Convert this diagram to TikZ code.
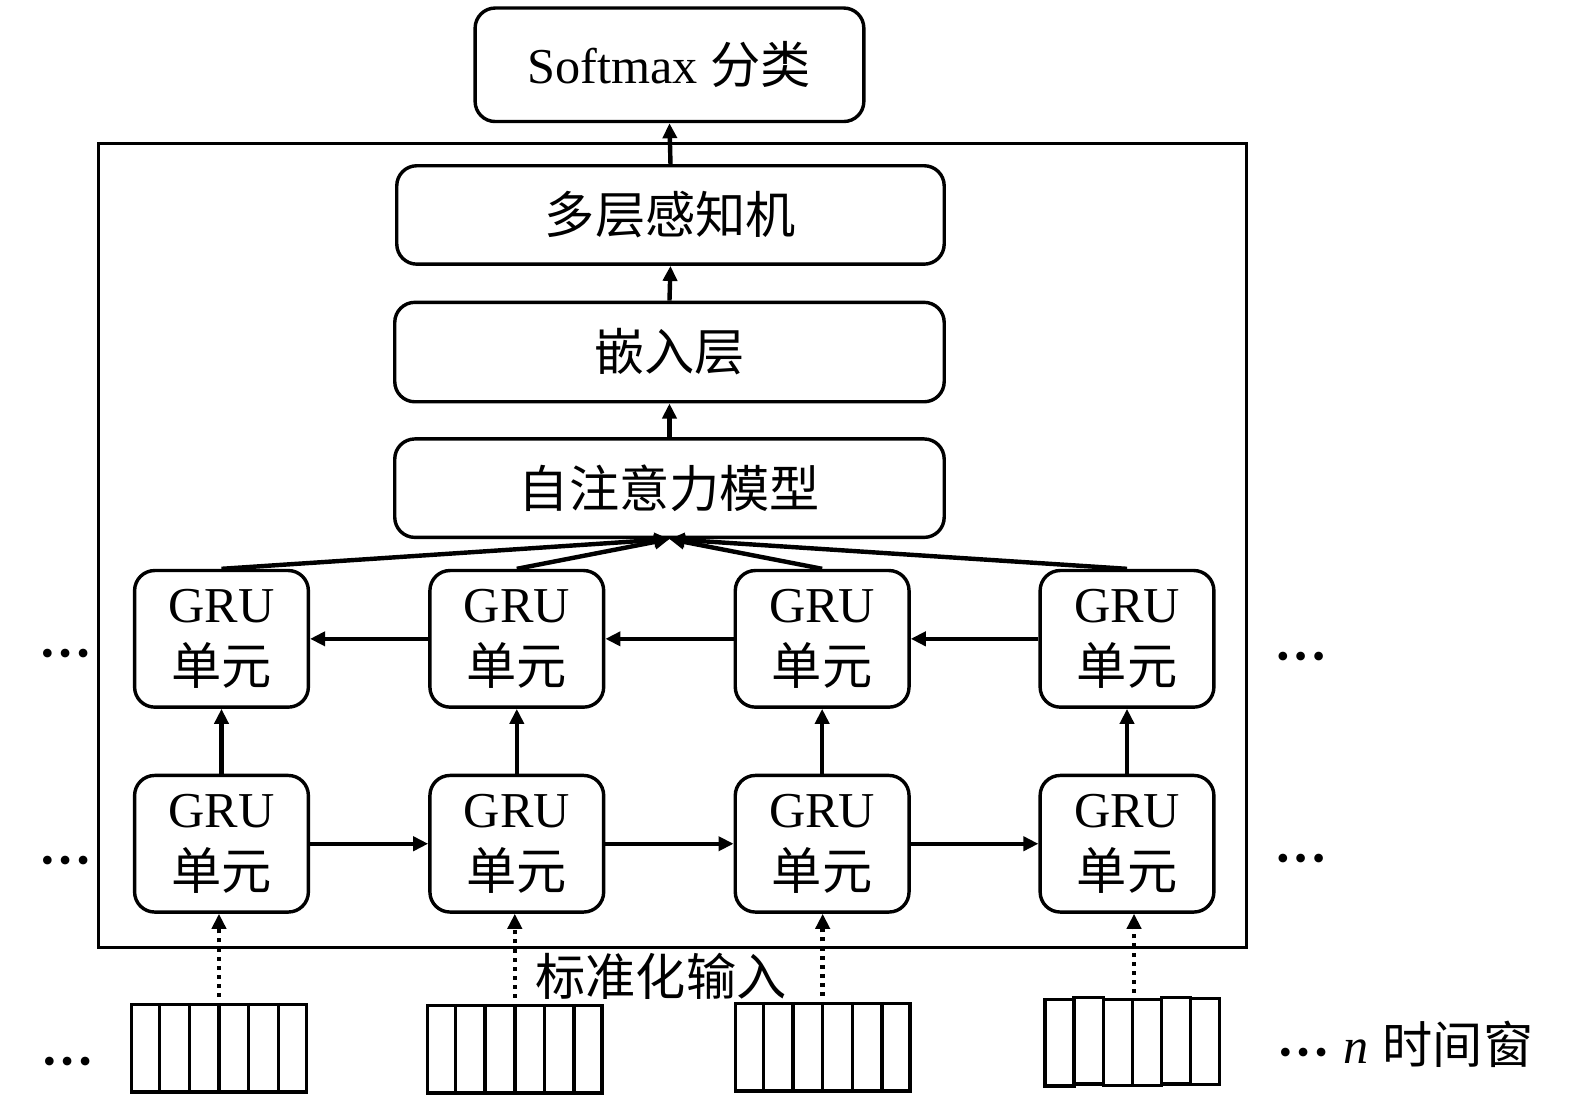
\documentclass[tikz,border=0pt]{standalone}
\usepackage{fontspec}
\setmainfont{Liberation Serif}
\newfontfamily\cjk{Noto Sans CJK SC}
\usetikzlibrary{arrows.meta,calc}
\newcommand\mydots{{\fontsize{18}{18}\selectfont\textbullet\hspace{2.6pt}\textbullet\hspace{2.6pt}\textbullet}}
\begin{document}
\begin{tikzpicture}[x=0.5pt,y=-0.5pt,
  box/.style={draw, line width=1.7pt, rounded corners=10pt, inner sep=0pt, font=\fontsize{25}{31}\selectfont, align=center},
  arr/.style={line width=2.2pt, -{Triangle[length=7.5pt,width=7pt]}},
  dotarr/.style={line width=2.2pt, dash pattern=on 2pt off 2.5pt, -{Triangle[length=7.5pt,width=7pt]}},
  inbox/.style={draw, line width=1.7pt, minimum width=87pt, minimum height=43.5pt, inner sep=0pt},
  cell/.style={line width=1.7pt},
  txt/.style={font=\fontsize{25}{31}\selectfont, inner sep=0pt},
]
\useasboundingbox (0,0) rectangle (1568,1095);

% outer frame
\node[draw, line width=1.6pt, minimum width=571.5pt, minimum height=400pt, inner sep=0pt] (outer) at (669.5,543) {};

% top stack
\node[box, minimum width=193.5pt, minimum height=56.5pt] (soft) at (666.5,64.5) {Softmax {\cjk 分类}};
\node[box, minimum width=272.5pt, minimum height=49pt] (mlp) at (667.5,214) {\cjk 多层感知机};
\node[box, minimum width=273.5pt, minimum height=49.5pt] (emb) at (666.5,350.5) {\cjk 嵌入层};
\node[box, minimum width=273.5pt, minimum height=49pt] (att) at (666.5,486) {\cjk 自注意力模型};

\draw[arr] (mlp.north) -- (soft.south);
\draw[arr] (emb.north) -- (mlp.south);
\draw[arr] (att.north) -- (emb.south);

% GRU cells
\foreach \i/\x in {1/220.5,2/514.5,3/818.5,4/1122}{
  \node[box, minimum width=86.5pt, minimum height=68pt] (t\i) at (\x,636) {GRU\\{\cjk 单元}};
  \node[box, minimum width=86.5pt, minimum height=68pt] (b\i) at (\x,840) {GRU\\{\cjk 单元}};
  \draw[arr] (b\i.north) -- (t\i.south);
  \draw[arr] (t\i.north) -- (att.south);
}
\foreach \i/\j in {1/2,2/3,3/4}{
  \draw[arr] (b\i.east) -- (b\j.west);
  \draw[arr] (t\j.west) -- (t\i.east);
}

% input blocks
\foreach \i/\x/\y in {1/218/1043.5,2/512.5/1044.5,3/819/1042.5}{
  \node[inbox] (in\i) at (\x,\y) {};
  \foreach \k in {1,...,5}
    \draw[cell] ($(in\i.north west)!\k/6!(in\i.north east)$) -- ($(in\i.south west)!\k/6!(in\i.south east)$);
}
\node[inbox, draw=none] (in4) at (1129,1039.5) {};
\foreach \k/\dy in {0/1,1/-1,2/0.5,3/0.5,4/-1,5/-0.5}
  \draw[cell] ($(in4.north west)+(\k*29,\dy)$) rectangle +(29,86);

\foreach \i in {1,...,4}
  \draw[dotarr] ($(in\i.north)+(0,-6)$) -- (in\i.north |- b\i.south);

% labels
\node[txt] (norm) at (658,972) {\cjk 标准化输入};
\node[txt] (dl1) at (65,654) {\mydots};
\node[txt] (dl2) at (65,861) {\mydots};
\node[txt] (dl3) at (67,1061) {\mydots};
\node[txt] (dr1) at (1295,657) {\mydots};
\node[txt] (dr2) at (1295,859) {\mydots};
\node[txt, anchor=west] (nw) at (1273,1040) {\raisebox{-0.5pt}{\mydots}\hspace{8pt}\textit{n}\hspace{7pt}{\cjk 时间窗}};
\end{tikzpicture}
\end{document}
